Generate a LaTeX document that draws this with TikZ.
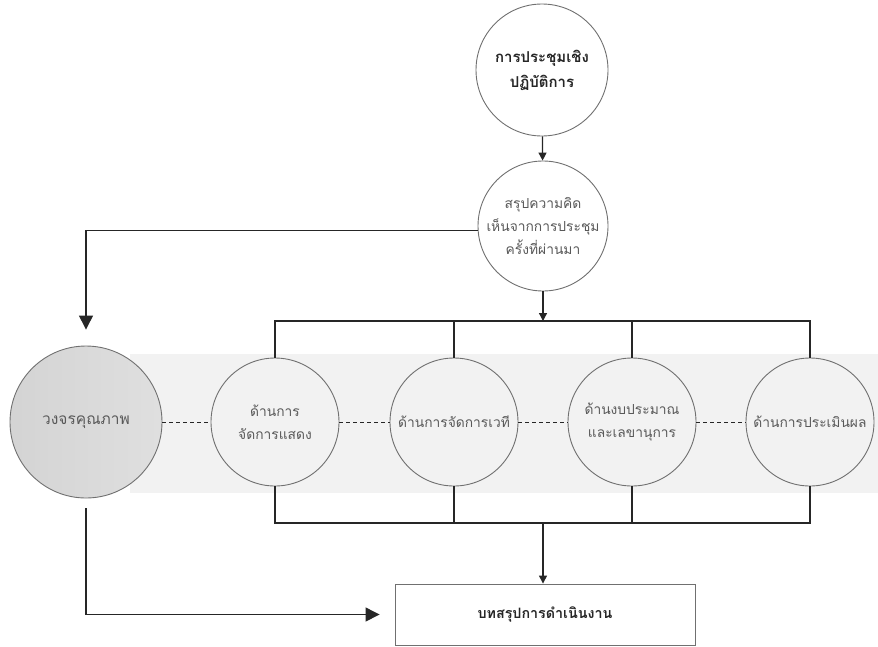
\documentclass[tikz,border=0pt]{standalone}
\usepackage{fontspec}
\newfontfamily\thaifont[Script=Thai]{Loma}
\usetikzlibrary{arrows.meta}
\definecolor{band}{HTML}{F2F2F2}
\definecolor{edge}{HTML}{707070}
\definecolor{txt}{HTML}{595959}
\definecolor{ink}{HTML}{262626}
\tikzset{
  circ/.style={circle, draw=edge, line width=0.9pt, align=center, inner sep=0pt, text=txt, font=\thaifont\fontsize{13.8}{23}\selectfont},
  conn/.style={draw=ink, line width=1.3pt},
  arr/.style={conn, -{Triangle[length=8pt,width=8pt]}},
  bigarr/.style={conn, -{Triangle[length=14pt,width=14pt]}},
  dashline/.style={draw=ink, line width=0.8pt, dash pattern=on 4pt off 3pt},
}
\begin{document}
\begin{tikzpicture}[x=1pt,y=-1pt]
\useasboundingbox (0,0) rectangle (878,646);
\fill[band] (130,354) rectangle (878,493);

\node[circ, minimum size=132pt, fill=white, text=ink, font=\thaifont\bfseries\fontsize{15}{25}\selectfont] (top) at (542,70) {การประชุมเชิง\\ปฏิบัติการ};
\node[circ, minimum size=130pt, fill=white] (sum) at (543,226) {สรุปความคิด\\เห็นจากการประชุม\\ครั้งที่ผ่านมา};
\node[circ, minimum size=152pt, left color=gray!34, right color=gray!25, text=txt, font=\thaifont\fontsize{15.5}{20}\selectfont] (q) at (86,422) {วงจรคุณภาพ};
\node[circ, minimum size=128pt, fill=band] (c1) at (275,422) {ด้านการ\\จัดการแสดง};
\node[circ, minimum size=128pt, fill=band] (c2) at (454,422) {ด้านการจัดการเวที};
\node[circ, minimum size=128pt, fill=band] (c3) at (632,422) {ด้านงบประมาณ\\และเลขานุการ};
\node[circ, minimum size=128pt, fill=band] (c4) at (810,422) {ด้านการประเมินผล};
\node[draw=edge, line width=0.9pt, minimum width=300pt, minimum height=61pt, text=ink, font=\thaifont\bfseries\fontsize{14.3}{18}\selectfont] (box) at (545,614.5) {บทสรุปการดำเนินงาน};

\coordinate (tb) at (543,321);
\coordinate (bb) at (543,523);

\draw[arr] (top) -- (sum);
\draw[arr] (sum) -- (tb);
\draw[conn] (c1.north) -- (c1.north |- tb) -- (c4.north |- tb) -- (c4.north);
\draw[conn] (c2.north) -- (c2.north |- tb);
\draw[conn] (c3.north) -- (c3.north |- tb);
\draw[conn] (c1.south) -- (c1.south |- bb) -- (c4.south |- bb) -- (c4.south);
\draw[conn] (c2.south) -- (c2.south |- bb);
\draw[conn] (c3.south) -- (c3.south |- bb);
\draw[arr] (bb) -- (bb |- box.north);

\draw[bigarr, shorten >=16pt] (sum.184) -| (q.north);
\draw[bigarr, shorten <=10pt, shorten >=15pt] (q.south) |- (box.west);

\draw[dashline] (q.east) -- (c1.west);
\draw[dashline] (c1.east) -- (c2.west);
\draw[dashline] (c2.east) -- (c3.west);
\draw[dashline] (c3.east) -- (c4.west);
\end{tikzpicture}
\end{document}
